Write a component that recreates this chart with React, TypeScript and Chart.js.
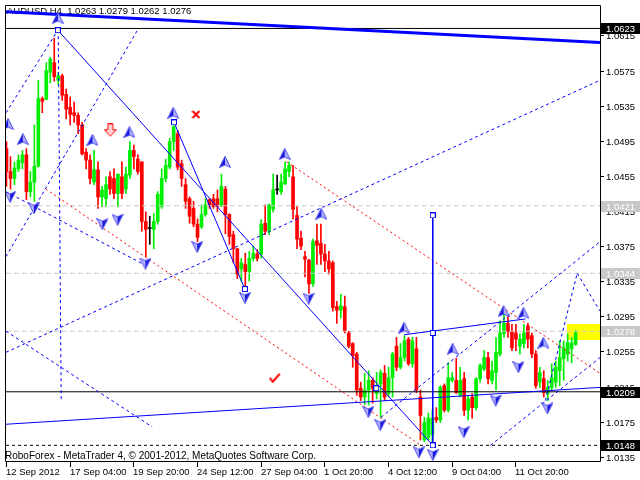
import React, { useEffect, useRef } from "react";
import { Chart, registerables } from "chart.js";

Chart.register(...registerables);

const SYMBOL = "AUDUSD";
const PERIOD = "H4";

const OPEN = [
  1.0486, 1.046, 1.0452, 1.0463, 1.047, 1.0479, 1.0437, 1.0448, 1.0466, 1.0543,
  1.0542, 1.0573, 1.0584, 1.0564, 1.0569, 1.0548, 1.0533, 1.0527, 1.0524, 1.0513,
  1.0482, 1.0473, 1.0448, 1.0462, 1.0431, 1.0429, 1.0454, 1.0452, 1.0435, 1.0454,
  1.044, 1.0456, 1.0484, 1.0474, 1.0471, 1.0403, 1.0395, 1.0394, 1.0403, 1.042,
  1.0452, 1.0465, 1.0494, 1.0503, 1.0469, 1.0445, 1.0429, 1.0418, 1.04, 1.0397,
  1.0411, 1.0428, 1.0429, 1.0429, 1.0422, 1.044, 1.0411, 1.0388, 1.0372, 1.0349,
  1.0354, 1.0346, 1.0361, 1.0366, 1.0366, 1.0401, 1.0392, 1.0417, 1.0439, 1.0437,
  1.0446, 1.046, 1.0454, 1.041, 1.0384, 1.0363, 1.0359, 1.0332, 1.0381, 1.0378,
  1.0366, 1.0358, 1.0356, 1.0306, 1.0302, 1.0306, 1.0276, 1.0264, 1.0252, 1.0213,
  1.0203, 1.0211, 1.0222, 1.0207, 1.0218, 1.023, 1.0207, 1.0225, 1.0261, 1.0237,
  1.0248, 1.0269, 1.0241, 1.0258, 1.0203, 1.0154, 1.0157, 1.016, 1.018, 1.0177,
  1.0216, 1.0188, 1.0222, 1.0222, 1.0205, 1.0224, 1.0188, 1.0203, 1.0191, 1.0224,
  1.0235, 1.0248, 1.0222, 1.0231, 1.0252, 1.0275, 1.0287, 1.0278, 1.0276, 1.0261,
  1.0264, 1.0284, 1.0273, 1.0252, 1.022, 1.0224, 1.0207, 1.0214, 1.022, 1.0233,
  1.0247, 1.0252, 1.0258, 1.0263,
];
const HIGH = [
  1.0494, 1.0477, 1.0471, 1.0479, 1.0484, 1.0486, 1.046, 1.0513, 1.0564, 1.0545,
  1.0584, 1.059, 1.0612, 1.0573, 1.0571, 1.0554, 1.0545, 1.0539, 1.0527, 1.0516,
  1.0486, 1.0479, 1.0484, 1.0471, 1.0443, 1.0454, 1.046, 1.0463, 1.0457, 1.0471,
  1.0465, 1.0494, 1.049, 1.0479, 1.0471, 1.0414, 1.0409, 1.0412, 1.0437, 1.0463,
  1.0474, 1.0498, 1.0516, 1.0507, 1.0473, 1.0452, 1.0431, 1.0426, 1.0406, 1.0422,
  1.0429, 1.0429, 1.0434, 1.0439, 1.0457, 1.0443, 1.0412, 1.0392, 1.0372, 1.0361,
  1.0367, 1.0369, 1.0375, 1.0371, 1.0405, 1.0422, 1.0423, 1.0457, 1.0456, 1.0457,
  1.0471, 1.0471, 1.0467, 1.042, 1.0392, 1.0369, 1.036, 1.0383, 1.04, 1.04,
  1.0377, 1.0369, 1.0358, 1.0312, 1.032, 1.0318, 1.0278, 1.0265, 1.0254, 1.022,
  1.023, 1.0233, 1.0225, 1.0231, 1.0234, 1.0239, 1.0237, 1.0254, 1.0271, 1.0264,
  1.0273, 1.0271, 1.0271, 1.0271, 1.0211, 1.018, 1.0185, 1.0188, 1.0191, 1.0216,
  1.0218, 1.0242, 1.0231, 1.0247, 1.0237, 1.0231, 1.0205, 1.0207, 1.0225, 1.0241,
  1.0256, 1.0254, 1.0244, 1.0271, 1.029, 1.0298, 1.0295, 1.0286, 1.0286, 1.0275,
  1.0286, 1.0287, 1.0276, 1.0256, 1.0237, 1.0233, 1.0222, 1.0241, 1.0244, 1.0267,
  1.0267, 1.0275, 1.0271, 1.0279,
];
const LOW = [
  1.0443, 1.044, 1.0445, 1.046, 1.0463, 1.0428, 1.0431, 1.0426, 1.0465, 1.0527,
  1.0542, 1.0561, 1.0563, 1.0559, 1.0541, 1.052, 1.0513, 1.0516, 1.0503, 1.0479,
  1.0463, 1.0446, 1.0445, 1.0418, 1.042, 1.042, 1.0434, 1.0429, 1.042, 1.0429,
  1.0435, 1.0452, 1.0463, 1.0457, 1.0392, 1.0363, 1.0377, 1.0372, 1.04, 1.0418,
  1.0448, 1.0463, 1.0484, 1.0462, 1.0443, 1.0418, 1.0401, 1.0397, 1.038, 1.0395,
  1.0409, 1.0418, 1.0418, 1.0414, 1.042, 1.0389, 1.0377, 1.0356, 1.0338, 1.0335,
  1.0326, 1.0335, 1.0358, 1.0358, 1.0361, 1.0388, 1.0388, 1.0414, 1.0434, 1.0434,
  1.0445, 1.0454, 1.0406, 1.0372, 1.0371, 1.034, 1.0321, 1.0329, 1.0354, 1.0354,
  1.0346, 1.0343, 1.0301, 1.0287, 1.0293, 1.0276, 1.0259, 1.0237, 1.0205, 1.0199,
  1.0194, 1.0194, 1.0196, 1.0201, 1.018, 1.0199, 1.0203, 1.0203, 1.0233, 1.0235,
  1.0244, 1.0239, 1.0237, 1.0208, 1.0154, 1.0152, 1.0154, 1.0148, 1.0174, 1.0174,
  1.0186, 1.0186, 1.022, 1.0207, 1.0203, 1.0182, 1.0177, 1.0179, 1.0188, 1.022,
  1.0233, 1.0218, 1.0218, 1.0211, 1.025, 1.0271, 1.0271, 1.0256, 1.0256, 1.0252,
  1.0259, 1.0259, 1.0248, 1.0213, 1.0214, 1.0203, 1.0199, 1.0211, 1.0214, 1.0216,
  1.0222, 1.0244, 1.0242, 1.0262,
];
const CLOSE = [
  1.046, 1.0452, 1.0464, 1.0473, 1.0479, 1.0437, 1.0448, 1.0466, 1.0543, 1.054,
  1.0575, 1.0588, 1.0568, 1.0569, 1.0547, 1.0531, 1.0525, 1.0524, 1.0513, 1.048,
  1.0473, 1.0452, 1.0462, 1.0431, 1.0439, 1.0445, 1.044, 1.0435, 1.0457, 1.0435,
  1.0457, 1.0484, 1.0477, 1.046, 1.0403, 1.0394, 1.0395, 1.0403, 1.0434, 1.0452,
  1.0467, 1.0494, 1.0511, 1.0465, 1.0452, 1.0426, 1.0409, 1.04, 1.0385, 1.0411,
  1.0422, 1.0422, 1.042, 1.042, 1.0443, 1.0411, 1.0386, 1.0372, 1.0343, 1.0356,
  1.0346, 1.0361, 1.0367, 1.0361, 1.04, 1.0392, 1.0422, 1.0439, 1.0439, 1.0448,
  1.0463, 1.0467, 1.0417, 1.0383, 1.0375, 1.036, 1.0332, 1.038, 1.0376, 1.0366,
  1.0358, 1.0349, 1.0305, 1.0302, 1.0307, 1.0278, 1.0261, 1.025, 1.0211, 1.0203,
  1.0211, 1.0222, 1.0213, 1.0214, 1.0231, 1.0203, 1.0225, 1.0252, 1.0237, 1.0248,
  1.0267, 1.0241, 1.0267, 1.0211, 1.0182, 1.0174, 1.0179, 1.0179, 1.0177, 1.0214,
  1.0188, 1.0225, 1.0225, 1.0208, 1.0222, 1.0188, 1.0201, 1.0191, 1.0224, 1.0239,
  1.0248, 1.0224, 1.0233, 1.0254, 1.0276, 1.0287, 1.0278, 1.0259, 1.0269, 1.0269,
  1.0276, 1.0269, 1.0252, 1.0216, 1.0231, 1.0208, 1.0214, 1.0225, 1.0237, 1.0248,
  1.0259, 1.0265, 1.0265, 1.0276,
];

const X_MIN = -0.125;
const X_MAX = 149.125;
const Y_MIN = 1.0129;
const Y_MAX = 1.06486;

const X_TICK_BARS = [0, 16, 32, 48, 64, 80, 96, 112, 128];
const X_TICK_LABELS = [
  "12 Sep 2012", "17 Sep 04:00", "19 Sep 20:00", "24 Sep 12:00", "27 Sep 04:00",
  "1 Oct 20:00", "4 Oct 12:00", "9 Oct 04:00", "11 Oct 20:00",
];
const Y_TICKS = [
  1.0615, 1.0575, 1.0535, 1.0495, 1.0455, 1.0415, 1.0375, 1.0335, 1.0295,
  1.0255, 1.0215, 1.0175, 1.0135,
];

const SOLID_LEVELS = [1.0623, 1.0209];
const DASHED_LEVELS = [1.0148];
const GREY_LEVELS = [1.0421, 1.0344, 1.0278];

// segments: [bar1, price1, bar2, price2]
const THICK_SEGMENT = [-0.125, 1.0642, 149.125, 1.0607];
const SOLID_BLUE_SEGMENTS = [
  [12.9, 1.0621, 107.1, 1.0148],
  [42.1, 1.0516, 59.9, 1.0326],
  [99.9, 1.0274, 130.4, 1.0292],
  [-0.125, 1.0172, 149.125, 1.0214],
  [107.1, 1.041, 107.1, 1.0148],
];
const DASHED_BLUE_SEGMENTS = [
  [-0.125, 1.0527, 12.9, 1.0621],
  [-0.125, 1.0363, 32.9, 1.0621],
  [-0.125, 1.0437, 34.1, 1.0355],
  [-0.125, 1.0278, 36.6, 1.0169],
  [-0.125, 1.0254, 149.125, 1.0564],
  [94.1, 1.018, 149.125, 1.038],
  [121.6, 1.0148, 149.125, 1.0248],
  [135.4, 1.0199, 143.4, 1.0344],
  [143.4, 1.0344, 149.125, 1.0301],
  [13.0, 1.0621, 13.75, 1.0199],
];
const DASHED_RED_SEGMENTS = [
  [9.9, 1.044, 104.1, 1.0148],
  [70.4, 1.0471, 149.125, 1.023],
];

const UP_ARROWS = [
  [12.9, 1.0635], [0.4, 1.0514], [4.1, 1.0497], [21.6, 1.0496], [30.9, 1.0505],
  [41.9, 1.0527], [54.9, 1.0471], [69.9, 1.048], [79.1, 1.0412], [99.9, 1.0282],
  [112.1, 1.0258], [124.9, 1.0301], [129.9, 1.0299], [134.9, 1.0265],
];
const DOWN_ARROWS = [
  [0.9, 1.0431], [6.9, 1.0418], [24.1, 1.04], [27.9, 1.0405], [34.9, 1.0355],
  [47.9, 1.0374], [59.9, 1.0316], [75.9, 1.0315], [90.9, 1.0186], [93.9, 1.0171],
  [103.6, 1.014], [107.1, 1.0137], [114.9, 1.0163], [122.9, 1.0199], [128.6, 1.0237],
  [135.9, 1.019],
];
const ANCHORS = [
  [12.9, 1.0621], [42.1, 1.0516], [59.9, 1.0326], [92.9, 1.0213],
  [107.1, 1.041], [107.1, 1.0276], [107.1, 1.0148],
];
const CROSS_MARKS = [[47.6, 1.0525]];
const HOLLOW_DOWN_MARKS = [[26.1, 1.0507]];
const CHECK_MARKS = [[67.4, 1.0225]];
const HIGHLIGHT = [140.9, 1.0286, 149.125, 1.0268];

const COPYRIGHT = "RoboForex - MetaTrader 4, \u00a9 2001-2012, MetaQuotes Software Corp.";

function makeCanvas(w: number, h: number, draw: (c: CanvasRenderingContext2D) => void) {
  const c = document.createElement("canvas");
  c.width = w;
  c.height = h;
  const ctx = c.getContext("2d")!;
  draw(ctx);
  return c;
}

export default function App() {
  const ref = useRef<HTMLCanvasElement>(null);

  useEffect(() => {
    document.body.style.margin = "0";
    const canvas = ref.current!;

    const upArrow = makeCanvas(12, 12, (c) => {
      c.beginPath(); c.moveTo(6, 0.5); c.lineTo(6, 9); c.lineTo(0.5, 11.5); c.closePath();
      c.fillStyle = "#1818d8"; c.fill();
      c.beginPath(); c.moveTo(6, 0.5); c.lineTo(11.5, 11.5); c.lineTo(6, 9); c.closePath();
      c.fillStyle = "#b0b0ff"; c.fill();
      c.beginPath(); c.moveTo(6, 0.5); c.lineTo(11.5, 11.5); c.lineTo(6, 9); c.lineTo(0.5, 11.5); c.closePath();
      c.strokeStyle = "#5050f0"; c.lineWidth = 1; c.stroke();
    });
    const downArrow = makeCanvas(12, 12, (c) => {
      c.beginPath(); c.moveTo(6, 11.5); c.lineTo(6, 3); c.lineTo(0.5, 0.5); c.closePath();
      c.fillStyle = "#b0b0ff"; c.fill();
      c.beginPath(); c.moveTo(6, 11.5); c.lineTo(11.5, 0.5); c.lineTo(6, 3); c.closePath();
      c.fillStyle = "#1818d8"; c.fill();
      c.beginPath(); c.moveTo(6, 11.5); c.lineTo(11.5, 0.5); c.lineTo(6, 3); c.lineTo(0.5, 0.5); c.closePath();
      c.strokeStyle = "#5050f0"; c.lineWidth = 1; c.stroke();
    });
    const anchor = makeCanvas(6, 6, (c) => {
      c.fillStyle = "#ffffff"; c.fillRect(0, 0, 6, 6);
      c.strokeStyle = "#0000ff"; c.lineWidth = 1; c.strokeRect(0.5, 0.5, 5, 5);
    });
    const cross = makeCanvas(9, 9, (c) => {
      c.strokeStyle = "#ff0000"; c.lineWidth = 2;
      c.beginPath(); c.moveTo(1, 1); c.lineTo(8, 8); c.moveTo(8, 1); c.lineTo(1, 8); c.stroke();
    });
    const hollowDown = makeCanvas(13, 14, (c) => {
      c.beginPath();
      c.moveTo(4, 0.5); c.lineTo(9, 0.5); c.lineTo(9, 6.5); c.lineTo(12.5, 6.5);
      c.lineTo(6.5, 13); c.lineTo(0.5, 6.5); c.lineTo(4, 6.5); c.closePath();
      c.fillStyle = "#ffd0d0"; c.fill();
      c.strokeStyle = "#ff0000"; c.lineWidth = 1; c.stroke();
    });
    const check = makeCanvas(12, 10, (c) => {
      c.strokeStyle = "#ff0000"; c.lineWidth = 2;
      c.beginPath(); c.moveTo(1, 5); c.lineTo(4, 9); c.lineTo(11, 1); c.stroke();
    });

    const n = OPEN.length;
    const colors = OPEN.map((o, i) =>
      CLOSE[i] > o ? "#00ee00" : CLOSE[i] < o ? "#ff0000" : "#000000"
    );

    const seg = (s: number[], color: string, width: number, dash: number[], order = 5) => ({
      type: "line" as const,
      data: [{ x: s[0], y: s[1] }, { x: s[2], y: s[3] }],
      borderColor: color,
      borderWidth: width,
      borderDash: dash,
      pointRadius: 0,
      fill: false,
      tension: 0,
      order,
    });
    const level = (v: number, color: string, dash: number[]) =>
      seg([X_MIN, v, X_MAX, v], color, 1, dash, 6);
    const markers = (pts: number[][], style: HTMLCanvasElement, order = 2) => ({
      type: "line" as const,
      data: pts.map((p) => ({ x: p[0], y: p[1] })),
      showLine: false,
      pointStyle: style,
      pointRadius: 5,
      order,
    });

    const datasets: any[] = [
      {
        type: "bar",
        data: OPEN.map((_, i) => ({ x: i, y: [LOW[i], HIGH[i]] })),
        backgroundColor: colors,
        barThickness: 1,
        grouped: false,
        borderWidth: 0,
        order: 20,
      },
      {
        type: "bar",
        data: OPEN.map((o, i) => ({ x: i, y: [Math.min(o, CLOSE[i]), Math.max(o, CLOSE[i])] })),
        backgroundColor: colors,
        barThickness: 3,
        grouped: false,
        borderWidth: 0,
        minBarLength: 1,
        order: 19,
      },
      ...GREY_LEVELS.map((v) => level(v, "#c8c8c8", [5, 3])),
      ...SOLID_LEVELS.map((v) => level(v, "#000000", [])),
      ...DASHED_LEVELS.map((v) => level(v, "#000000", [3, 3])),
      seg(THICK_SEGMENT, "#0000ff", 3, []),
      ...SOLID_BLUE_SEGMENTS.map((s) => seg(s, "#0000ff", 1, [])),
      ...DASHED_BLUE_SEGMENTS.map((s) => seg(s, "#0000ff", 1, [3, 3])),
      ...DASHED_RED_SEGMENTS.map((s) => seg(s, "#ff0000", 1, [2, 3])),
      markers(UP_ARROWS, upArrow),
      markers(DOWN_ARROWS, downArrow),
      markers(ANCHORS, anchor, 1),
      markers(CROSS_MARKS, cross),
      markers(HOLLOW_DOWN_MARKS, hollowDown),
      markers(CHECK_MARKS, check),
    ];

    const fmt = (v: number) => v.toFixed(4);

    const decor = {
      id: "mt4decor",
      beforeDraw(chart: any) {
        const c = chart.ctx;
        c.save();
        c.fillStyle = "#ffffff";
        c.fillRect(0, 0, chart.width, chart.height);
        c.restore();
      },
      beforeDatasetsDraw(chart: any) {
        const c = chart.ctx;
        const { x, y } = chart.scales;
        c.save();
        // highlight rectangle
        const x1 = x.getPixelForValue(HIGHLIGHT[0]);
        const x2 = x.getPixelForValue(HIGHLIGHT[2]);
        const y1 = y.getPixelForValue(HIGHLIGHT[1]);
        const y2 = y.getPixelForValue(HIGHLIGHT[3]);
        c.fillStyle = "#ffff00";
        c.fillRect(Math.round(x1), Math.round(y1), Math.round(x2 - x1), Math.round(y2 - y1));
        // title
        c.fillStyle = "#000000";
        c.font = "9.5px 'Liberation Sans', Arial, sans-serif";
        c.textBaseline = "alphabetic";
        c.textAlign = "left";
        const last = n - 1;
        c.fillText(
          `${SYMBOL},${PERIOD}  ${fmt(OPEN[last])} ${fmt(HIGH[last])} ${fmt(LOW[last])} ${fmt(CLOSE[last])}`,
          7, 14
        );
        c.font = "10px 'Liberation Sans', Arial, sans-serif";
        c.fillText(COPYRIGHT, 5, 459);
        c.restore();
      },
      afterDatasetsDraw(chart: any) {
        const c = chart.ctx;
        const a = chart.chartArea;
        const { x, y } = chart.scales;
        c.save();
        c.strokeStyle = "#000000";
        c.lineWidth = 1;
        c.setLineDash([]);
        c.beginPath();
        c.moveTo(a.left - 0.5, a.top - 0.5);
        c.lineTo(a.right + 0.5, a.top - 0.5);
        c.lineTo(a.right + 0.5, a.bottom - 0.5);
        c.lineTo(a.left - 0.5, a.bottom - 0.5);
        c.closePath();
        c.stroke();

        c.font = "9.5px 'Liberation Sans', Arial, sans-serif";
        c.fillStyle = "#000000";
        c.textAlign = "left";
        c.textBaseline = "middle";
        for (const v of Y_TICKS) {
          const py = Math.round(y.getPixelForValue(v));
          c.beginPath();
          c.moveTo(a.right + 1, py + 0.5);
          c.lineTo(a.right + 4, py + 0.5);
          c.stroke();
          c.fillText(v.toFixed(4), a.right + 6, py + 1);
        }
        const box = (v: number, bg: string) => {
          const py = Math.round(y.getPixelForValue(v));
          c.fillStyle = bg;
          c.fillRect(a.right + 1, py - 5, 40, 11);
          c.fillStyle = "#ffffff";
          c.fillText(v.toFixed(4), a.right + 6, py + 1);
        };
        GREY_LEVELS.forEach((v) => box(v, "#c8c8c8"));
        SOLID_LEVELS.forEach((v) => box(v, "#000000"));
        DASHED_LEVELS.forEach((v) => box(v, "#000000"));

        c.fillStyle = "#000000";
        c.textBaseline = "alphabetic";
        X_TICK_BARS.forEach((b, k) => {
          const px = Math.round(x.getPixelForValue(b) - 0.5);
          c.beginPath();
          c.moveTo(px + 0.5, a.bottom);
          c.lineTo(px + 0.5, a.bottom + 5);
          c.stroke();
          c.fillText(X_TICK_LABELS[k], px, a.bottom + 13);
        });
        c.restore();
      },
    };

    const chart = new Chart(canvas, {
      type: "bar",
      data: { datasets },
      options: {
        responsive: false,
        animation: false,
        devicePixelRatio: 1,
        events: [],
        layout: { padding: { left: 3, top: 3, right: 40, bottom: 18 } },
        scales: {
          x: { type: "linear", min: X_MIN, max: X_MAX, display: false, offset: false },
          y: { type: "linear", min: Y_MIN, max: Y_MAX, display: false },
        },
        plugins: { legend: { display: false }, tooltip: { enabled: false } },
      },
      plugins: [decor],
    } as any);

    return () => chart.destroy();
  }, []);

  return (
    <div style={{ position: "fixed", left: 0, top: 0, width: 640, height: 480 }}>
      <canvas ref={ref} width={640} height={480} style={{ width: 640, height: 480, display: "block" }} />
    </div>
  );
}
